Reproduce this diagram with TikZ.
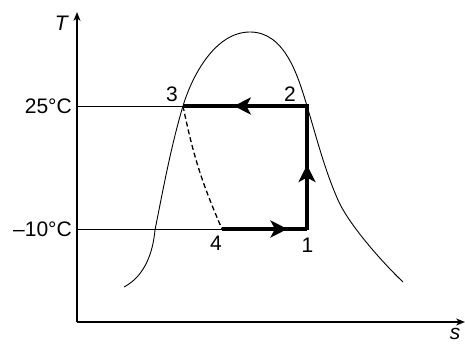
\documentclass[tikz,border=0pt]{standalone}
\usepackage{fontspec}
\setmainfont{Liberation Sans}
\usetikzlibrary{arrows.meta,decorations.markings}
\tikzset{
    >=Stealth,
    axis/.style={line width=2.4pt, -{Stealth[length=9pt,width=7pt]}},
    guide/.style={line width=0.9pt},
    dome/.style={line width=0.9pt},
    process/.style={line width=3.2pt, postaction={decorate},
        decoration={markings, mark=at position #1 with {\arrow{Stealth[length=17pt,width=17pt,inset=4.5pt]}}}},
    expansion/.style={line width=1.3pt, dash pattern=on 5pt off 3pt},
    lbl/.style={font=\fontsize{21}{25}\selectfont, inner sep=0pt}
}

\begin{document}
\begin{tikzpicture}[x=1pt, y=-1pt]
    \useasboundingbox (0,0) rectangle (465,344);

    % axes
    \coordinate (o) at (77,322);
    \coordinate (ytip) at (77,12);
    \coordinate (xtip) at (465,322);
    \draw[axis] (o) -- (ytip);
    \draw[axis] (o) -- (xtip);
    \node[lbl] (T) at (62,23) {\textit{T}};
    \node[lbl] (s) at (455,334) {\textit{s}};

    % states
    \coordinate (s1) at (307,229);
    \coordinate (s2) at (307,106);
    \coordinate (s3) at (183,106);
    \coordinate (s4) at (222,229);

    \node[lbl, anchor=east] (hot) at (72,106) {25°C};
    \node[lbl, anchor=east] (cold) at (72,229) {–10°C};
    \draw[guide] (o |- s3) -- (s3);
    \draw[guide] (o |- s4) -- (s4);

    % saturation dome
    \draw[dome] (124,287) .. controls (145,276) and (153,252) .. (155,230)
        .. controls (163,190) and (171,146) .. (s3)
        .. controls (192,76) and (215,32) .. (250,32)
        .. controls (285,32) and (298,76) .. (s2)
        .. controls (317.8,142) and (324.8,170) .. (338,200)
        .. controls (349,225) and (383,263) .. (403,282);

    % cycle
    \draw[process=0.59] (s2) -- (s3);
    \draw[process=0.52] (s1) -- (s2);
    \draw[process=0.77] (s4) -- (s1);
    \draw[line width=3.2pt] (s2) -- ++(0,-1.5) (s1) -- ++(0,1.5);
    \draw[expansion] (s3) to[bend right=6] (s4);

    \node[lbl] (n1) at (307.5,245) {1};
    \node[lbl] (n2) at (290,94) {2};
    \node[lbl] (n3) at (172,94) {3};
    \node[lbl] (n4) at (216,243) {4};
\end{tikzpicture}
\end{document}
